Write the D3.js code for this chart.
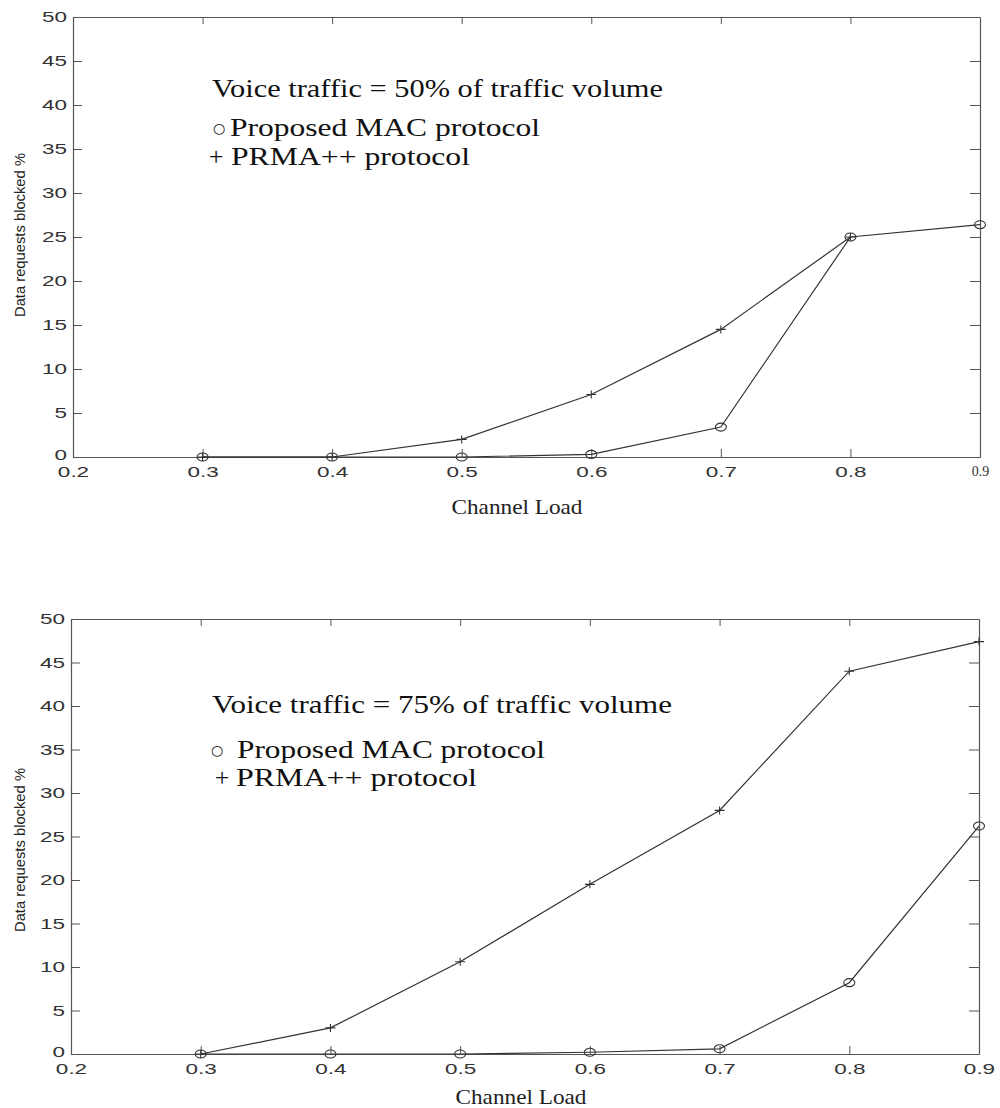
<!DOCTYPE html>
<html>
<head>
<meta charset="utf-8">
<script src="https://cdn.jsdelivr.net/npm/d3@7"></script>
<style>
  body { margin: 0; background: #fff; }
  svg { display: block; }
</style>
</head>
<body>
<svg id="chart" width="1000" height="1108"></svg>
<script>
// Axis ticks
const xTickValues = [0.2, 0.3, 0.4, 0.5, 0.6, 0.7, 0.8, 0.9];
const yTickValues = [0, 5, 10, 15, 20, 25, 30, 35, 40, 45, 50];

// Channel load values (x)
const loadsMac50 = [0.3, 0.4, 0.5, 0.6, 0.7, 0.8, 0.9];
const loadsPrma50 = [0.3, 0.4, 0.5, 0.6, 0.7, 0.8];
const loadsMac75 = [0.3, 0.4, 0.5, 0.6, 0.7, 0.8, 0.9];
const loadsPrma75 = [0.3, 0.4, 0.5, 0.6, 0.7, 0.8, 0.9];

// Data requests blocked (%)
const mac50 = [0, 0, 0, 0.3, 3.4, 25.0, 26.4];
const prma50 = [0, 0, 2.0, 7.1, 14.5, 25.0];
const mac75 = [0, 0, 0, 0.2, 0.6, 8.2, 26.2];
const prma75 = [0, 3.0, 10.6, 19.5, 28.0, 44.0, 47.4];

// Text
const panelTitles = ["Voice traffic = 50% of traffic volume", "Voice traffic = 75% of traffic volume"];
const legendLabels = ["Proposed MAC protocol", "PRMA++ protocol"];
const xAxisTitle = "Channel Load";
const yAxisTitle = "Data requests blocked %";

const SERIF = "'Liberation Serif','Times New Roman',Times,serif";
const SANS = "'Liberation Sans',Arial,Helvetica,sans-serif";
const INK = "#333";

const svg = d3.select("#chart");

const panels = [
  {
    frame: { left: 73, top: 17, right: 980, bottom: 457 },
    mac: d3.zip(loadsMac50, mac50),
    prma: d3.zip(loadsPrma50, prma50),
    title: panelTitles[0],
    titlePos: { x: 212, y: 97, len: 451 },
    legend: [
      { sym: "○", symX: 219, x: 230, y: 136, len: 310 },
      { sym: "+", symX: 216, x: 231, y: 165, len: 239 }
    ],
    xTitle: { x: 517, y: 514 },
    yTitle: { x: 25, y: 235 },
    serifLastTick: true
  },
  {
    frame: { left: 71, top: 619, right: 979, bottom: 1054 },
    mac: d3.zip(loadsMac75, mac75),
    prma: d3.zip(loadsPrma75, prma75),
    title: panelTitles[1],
    titlePos: { x: 212, y: 713, len: 460 },
    legend: [
      { sym: "○", symX: 217, x: 237, y: 758, len: 308 },
      { sym: "+", symX: 222, x: 236, y: 786, len: 241 }
    ],
    xTitle: { x: 521, y: 1104 },
    yTitle: { x: 25, y: 850 },
    serifLastTick: false
  }
];

function drawPanel(p) {
  const f = p.frame;
  const x = d3.scaleLinear().domain([0.2, 0.9]).range([f.left, f.right]);
  const y = d3.scaleLinear().domain([0, 50]).range([f.bottom, f.top]);
  const g = svg.append("g");

  // Bottom axis with labels, ticks pointing inward
  const gx = g.append("g")
    .attr("transform", `translate(0,${f.bottom})`)
    .attr("color", "#555")
    .call(d3.axisBottom(x).tickValues(xTickValues)
      .tickSizeInner(-8).tickSizeOuter(0).tickFormat(d3.format(".1f")));
  gx.selectAll("text")
    .attr("y", null).attr("dy", null)
    .attr("fill", INK)
    .attr("font-family", SANS).attr("font-size", 15)
    .attr("transform", "translate(0,20) scale(1.5,1)");
  if (p.serifLastTick) {
    gx.selectAll(".tick").filter(d => d === 0.9).select("text")
      .attr("font-family", SERIF).attr("font-size", 14)
      .attr("transform", "translate(0,19)");
  }

  // Left axis with labels
  const gy = g.append("g")
    .attr("transform", `translate(${f.left},0)`)
    .attr("color", "#555")
    .call(d3.axisLeft(y).tickValues(yTickValues)
      .tickSizeInner(-9).tickSizeOuter(0).tickFormat(d3.format("d")));
  gy.selectAll("text")
    .attr("x", null)
    .attr("fill", INK)
    .attr("font-family", SANS).attr("font-size", 15)
    .attr("transform", "translate(-6,0) scale(1.5,1)");
  gy.selectAll(".tick").filter(d => d === 0).select("text")
    .attr("transform", "translate(-6,-2) scale(1.5,1)");

  // Top and right edges of the box, unlabeled ticks
  g.append("g")
    .attr("transform", `translate(0,${f.top})`)
    .attr("color", "#555")
    .call(d3.axisTop(x).tickValues(xTickValues.slice(1, -1))
      .tickSizeInner(-7).tickSizeOuter(0).tickFormat(""));
  g.append("g")
    .attr("transform", `translate(${f.right},0)`)
    .attr("color", "#555")
    .call(d3.axisRight(y).tickValues(yTickValues.slice(1, -1))
      .tickSizeInner(-10).tickSizeOuter(0).tickFormat(""));

  g.selectAll(".domain").attr("stroke-width", 1.2);

  // Series lines
  const line = d3.line().x(d => x(d[0])).y(d => y(d[1]));
  [p.prma, p.mac].forEach(s => {
    g.append("path").attr("d", line(s))
      .attr("fill", "none").attr("stroke", INK).attr("stroke-width", 1.2);
  });

  // Markers
  g.selectAll(null).data(p.mac).join("ellipse")
    .attr("cx", d => x(d[0])).attr("cy", d => y(d[1]))
    .attr("rx", 5.5).attr("ry", 4)
    .attr("fill", "none").attr("stroke", INK).attr("stroke-width", 1.1);
  g.selectAll(null).data(p.prma).join("path")
    .attr("transform", d => `translate(${x(d[0])},${y(d[1])})`)
    .attr("d", "M-5,0H5M0,-4V4")
    .attr("fill", "none").attr("stroke", INK).attr("stroke-width", 1.1);

  // Annotation and legend
  g.append("text")
    .attr("x", p.titlePos.x).attr("y", p.titlePos.y)
    .attr("font-family", SERIF).attr("font-size", 26).attr("fill", "#111")
    .attr("textLength", p.titlePos.len).attr("lengthAdjust", "spacingAndGlyphs")
    .text(p.title);
  p.legend.forEach((L, i) => {
    g.append("text")
      .attr("x", L.symX).attr("y", L.y - (i === 0 ? 3 : 0))
      .attr("text-anchor", "middle")
      .attr("font-family", i === 0 ? "'DejaVu Sans',sans-serif" : SERIF)
      .attr("font-size", i === 0 ? 14 : 26).attr("fill", "#111")
      .text(L.sym);
    g.append("text")
      .attr("x", L.x).attr("y", L.y)
      .attr("font-family", SERIF).attr("font-size", 26).attr("fill", "#111")
      .attr("textLength", L.len).attr("lengthAdjust", "spacingAndGlyphs")
      .text(legendLabels[i]);
  });

  // Axis titles
  g.append("text")
    .attr("x", p.xTitle.x).attr("y", p.xTitle.y)
    .attr("text-anchor", "middle")
    .attr("font-family", SERIF).attr("font-size", 21).attr("fill", "#222")
    .attr("textLength", 131).attr("lengthAdjust", "spacingAndGlyphs")
    .text(xAxisTitle);
  g.append("text")
    .attr("transform", `translate(${p.yTitle.x},${p.yTitle.y}) rotate(-90)`)
    .attr("text-anchor", "middle")
    .attr("font-family", SANS).attr("font-size", 15).attr("fill", "#222")
    .attr("textLength", 164).attr("lengthAdjust", "spacingAndGlyphs")
    .text(yAxisTitle);
}

panels.forEach(drawPanel);
</script>
</body>
</html>
